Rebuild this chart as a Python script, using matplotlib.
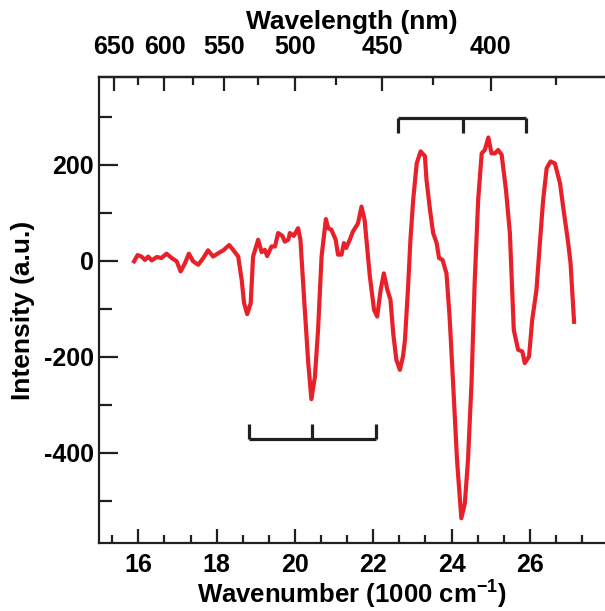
import numpy as np
import matplotlib
matplotlib.use("Agg")
import matplotlib.pyplot as plt
from matplotlib.ticker import MultipleLocator, FixedLocator

plt.rcParams['font.family'] = ['Liberation Sans', 'DejaVu Sans']
plt.rcParams['font.weight'] = 'bold'
plt.rcParams['axes.unicode_minus'] = False
plt.rcParams['mathtext.fontset'] = 'custom'
plt.rcParams['mathtext.rm'] = 'Liberation Sans:bold'
plt.rcParams['mathtext.bf'] = 'Liberation Sans:bold'

# spectrum (x in 1000 cm^-1, intensity in a.u.)
wavenumber = [
    15.89, 15.98, 16.08, 16.17, 16.25, 16.34, 16.47, 16.59, 16.72, 16.85,
    16.98, 17.08, 17.19, 17.29, 17.40, 17.53, 17.66, 17.78, 17.91, 18.04,
    18.17, 18.32, 18.42, 18.55, 18.64, 18.70, 18.78, 18.87, 18.93, 19.06,
    19.15, 19.23, 19.29, 19.40, 19.49, 19.57, 19.68, 19.74, 19.83, 19.87,
    19.97, 20.08, 20.14, 20.23, 20.34, 20.42, 20.51, 20.59, 20.68, 20.79,
    20.85, 20.93, 21.04, 21.10, 21.19, 21.25, 21.31, 21.40, 21.48, 21.61,
    21.70, 21.78, 21.91, 22.02, 22.10, 22.19, 22.27, 22.36, 22.44, 22.51,
    22.59, 22.68, 22.76, 22.81, 22.89, 22.95, 23.02, 23.11, 23.21, 23.32,
    23.36, 23.45, 23.53, 23.62, 23.68, 23.77, 23.87, 23.95, 24.04, 24.14,
    24.25, 24.34, 24.42, 24.51, 24.59, 24.68, 24.77, 24.85, 24.94, 25.02,
    25.11, 25.19, 25.28, 25.39, 25.49, 25.59, 25.70, 25.81, 25.87, 25.98,
    26.06, 26.17, 26.25, 26.34, 26.43, 26.53, 26.64, 26.77, 26.85, 26.98,
    27.04, 27.13,
]
intensity = [
    -1, 12, 9, 2, 9, 1, 8, 6, 15, 6,
    -1, -22, -5, 15, -1, -8, 6, 22, 9, 16,
    22, 33, 23, 9, -40, -88, -111, -88, 9, 44,
    18, 23, 10, 30, 30, 58, 52, 40, 44, 58,
    52, 68, 44, -74, -213, -288, -241, -144, 9, 87,
    68, 65, 44, 13, 13, 37, 27, 44, 61, 78,
    113, 85, -30, -102, -116, -60, -26, -60, -81, -151,
    -206, -227, -199, -165, -54, 44, 127, 203, 228, 218,
    169, 106, 58, 37, 6, 2, -26, -116, -255, -415,
    -536, -505, -415, -255, -47, 127, 224, 231, 257, 224,
    224, 231, 221, 148, 58, -144, -185, -189, -213, -199,
    -123, -60, 30, 127, 193, 207, 203, 162, 113, 37,
    -5, -127,
]

# bracket markers: (left, middle, right), line level, tick end
top_bracket_x = [22.64, 24.28, 25.89]
top_bracket_y = (297, 267)
bottom_bracket_x = [18.83, 20.43, 22.06]
bottom_bracket_y = (-371, -340)

wl_major = [650, 600, 550, 500, 450, 400]
wl_minor = [625, 575, 525, 475, 425, 375]

fig = plt.figure(figsize=(6.05, 6.11), dpi=100)
ax = fig.add_axes([0.164, 0.111, 0.836, 0.763])

ax.plot(wavenumber, intensity, color='#e8202a', lw=3.0, solid_joinstyle='round')

for bx, (ly, ty) in [(top_bracket_x, top_bracket_y), (bottom_bracket_x, bottom_bracket_y)]:
    ax.plot([bx[0], bx[2]], [ly, ly], color='#231f20', lw=2.3, solid_capstyle='butt')
    for xv in bx:
        ax.plot([xv, xv], [ly, ty], color='#231f20', lw=2.3, solid_capstyle='butt')

ax.set_xlim(15, 27.92)
ax.set_ylim(-588, 383)

ax.spines['right'].set_visible(False)
for s in ['left', 'bottom', 'top']:
    ax.spines[s].set_linewidth(1.6)
    ax.spines[s].set_color('#231f20')

ax.xaxis.set_major_locator(MultipleLocator(2))
ax.xaxis.set_minor_locator(MultipleLocator(2 / 3))
ax.yaxis.set_major_locator(MultipleLocator(200))
ax.yaxis.set_minor_locator(MultipleLocator(100))
ax.tick_params(axis='x', which='both', direction='in', top=False, labelsize=18,
               width=1.6, color='#231f20', pad=7)
ax.tick_params(axis='x', which='major', length=10)
ax.tick_params(axis='x', which='minor', length=6)
ax.tick_params(axis='y', which='both', direction='in', right=False, labelsize=18,
               width=1.6, color='#231f20', pad=4)
ax.tick_params(axis='y', which='major', length=14)
ax.tick_params(axis='y', which='minor', length=9)

ax.set_xlabel('Wavenumber (1000 cm$^{-1}$)', fontsize=18.5, fontweight='bold', labelpad=0)
ax.set_ylabel('Intensity (a.u.)', fontsize=19, fontweight='bold', labelpad=6)

top = ax.secondary_xaxis('top', functions=(lambda x: 1e4 / np.asarray(x, dtype=float),
                                          lambda w: 1e4 / np.asarray(w, dtype=float)))
top.xaxis.set_major_locator(FixedLocator(wl_major))
top.xaxis.set_minor_locator(FixedLocator(wl_minor))
top.tick_params(which='both', direction='in', labelsize=18, width=1.6, color='#231f20', pad=13)
top.tick_params(which='major', length=10)
top.tick_params(which='minor', length=6)
top.spines['top'].set_linewidth(1.6)
top.set_xlabel('Wavelength (nm)', fontsize=19, fontweight='bold', labelpad=4)

fig.savefig('out.png', dpi=100)
